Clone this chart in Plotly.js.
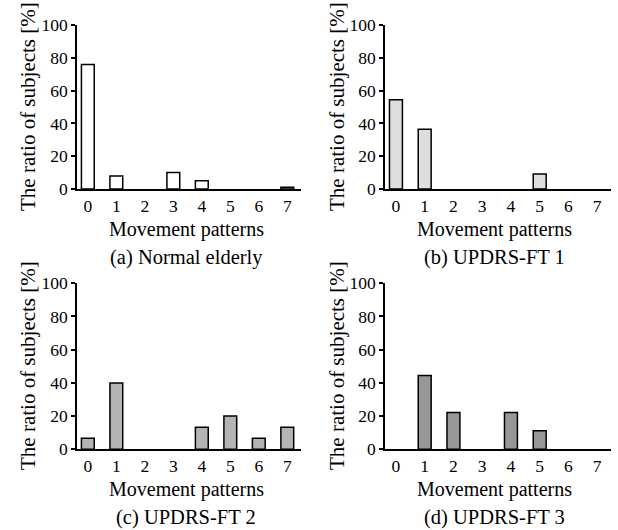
<!DOCTYPE html>
<html>
<head>
<meta charset="utf-8">
<script src="https://cdn.plot.ly/plotly-3.0.1.min.js"></script>
<style>
html,body{margin:0;padding:0;background:#fff;}
#chart{width:618px;height:530px;}
</style>
</head>
<body>
<div id="chart"></div>
<script>
var patterns = [0, 1, 2, 3, 4, 5, 6, 7];
var tickLabels = ["0", "1", "2", "3", "4", "5", "6", "7"];
var normalElderly = [76, 8, 0, 10, 5, 0, 0, 1];
var updrsFT1 = [54.5, 36.4, 0, 0, 0, 9.1, 0, 0];
var updrsFT2 = [6.7, 40, 0, 0, 13.3, 20, 6.7, 13.3];
var updrsFT3 = [0, 44.4, 22.2, 0, 22.2, 11.1, 0, 0];
var captions = ["(a) Normal elderly", "(b) UPDRS-FT 1", "(c) UPDRS-FT 2", "(d) UPDRS-FT 3"];
var xTitle = "Movement patterns";
var yTitle = "The ratio of subjects [%]";

var FONT = '"Liberation Serif", "Times New Roman", Times, serif';
var fills = ["#ffffff", "#dedede", "#b4b4b4", "#979797"];
var series = [normalElderly, updrsFT1, updrsFT2, updrsFT3];

var traces = series.map(function (vals, i) {
  var n = i === 0 ? "" : String(i + 1);
  return {
    type: "bar",
    x: patterns,
    y: vals,
    width: 0.45,
    xaxis: "x" + n,
    yaxis: "y" + n,
    marker: {
      color: fills[i],
      line: {color: "#000", width: vals.map(function (v) { return v > 0 ? 1.5 : 0; })}
    },
    hoverinfo: "x+y",
    showlegend: false
  };
});

var xd = [[0.1246, 0.487], [0.623, 0.9887]];
var yd = [[0.6434, 0.9528], [0.1523, 0.4655]];

function xa(dom, anchor) {
  return {
    domain: dom, anchor: anchor, range: [-0.38, 7.48],
    tickvals: patterns, ticktext: tickLabels, ticks: "",
    showline: true, linecolor: "#000", linewidth: 1.5,
    showgrid: false, zeroline: false, fixedrange: true,
    tickfont: {family: FONT, size: 17.5, color: "#000"}
  };
}
function ya(dom, anchor) {
  return {
    domain: dom, anchor: anchor, range: [0, 100],
    tickvals: [0, 20, 40, 60, 80, 100], ticks: "outside", ticklen: 4,
    tickcolor: "#000", tickwidth: 1.5,
    showline: true, linecolor: "#000", linewidth: 1.5,
    showgrid: false, zeroline: false, fixedrange: true,
    tickfont: {family: FONT, size: 17.5, color: "#000"}
  };
}

var layout = {
  width: 618, height: 530,
  margin: {l: 0, r: 0, t: 0, b: 0},
  paper_bgcolor: "#fff", plot_bgcolor: "#fff",
  font: {family: FONT, color: "#000"},
  xaxis: xa(xd[0], "y"), yaxis: ya(yd[0], "x"),
  xaxis2: xa(xd[1], "y2"), yaxis2: ya(yd[0], "x2"),
  xaxis3: xa(xd[0], "y3"), yaxis3: ya(yd[1], "x3"),
  xaxis4: xa(xd[1], "y4"), yaxis4: ya(yd[1], "x4"),
  annotations: []
};

var panelPos = [
  {cx: 186, yt: 28, xtY: 229, capY: 257},
  {cx: 494, yt: 337, xtY: 229, capY: 257},
  {cx: 186, yt: 28, xtY: 489, capY: 517},
  {cx: 494, yt: 337, xtY: 489, capY: 517}
];
var yCenters = [107, 107, 366, 366];

panelPos.forEach(function (p, i) {
  layout.annotations.push({
    xref: "paper", yref: "paper", x: p.cx / 618, y: 1 - p.xtY / 530,
    xanchor: "center", yanchor: "middle", showarrow: false,
    text: xTitle, font: {family: FONT, size: 20, color: "#000"}
  });
  layout.annotations.push({
    xref: "paper", yref: "paper", x: p.cx / 618, y: 1 - p.capY / 530,
    xanchor: "center", yanchor: "middle", showarrow: false,
    text: captions[i], font: {family: FONT, size: 20.5, color: "#000"}
  });
  layout.annotations.push({
    xref: "paper", yref: "paper", x: p.yt / 618, y: 1 - yCenters[i] / 530,
    xanchor: "center", yanchor: "middle", showarrow: false, textangle: -90,
    text: yTitle, font: {family: FONT, size: 21, color: "#000"}
  });
});

Plotly.newPlot("chart", traces, layout, {displayModeBar: false});
</script>
</body>
</html>
